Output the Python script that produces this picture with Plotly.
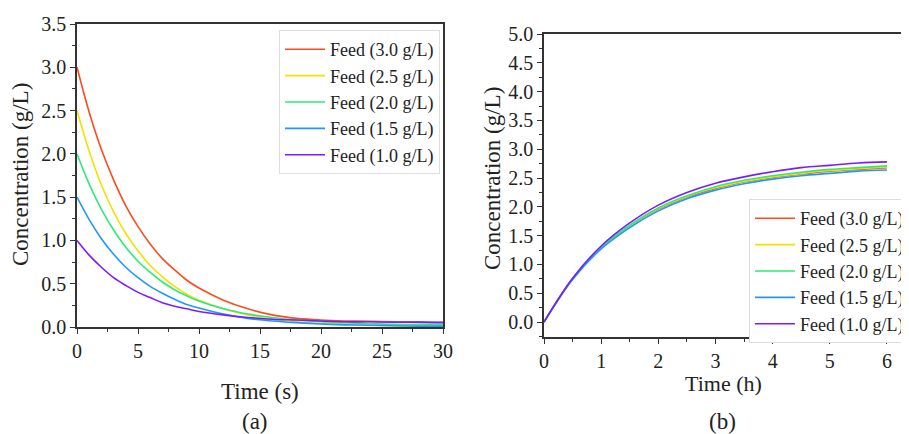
import plotly.graph_objects as go

# ---------------- data ----------------
labels = ["Feed (3.0 g/L)", "Feed (2.5 g/L)", "Feed (2.0 g/L)", "Feed (1.5 g/L)", "Feed (1.0 g/L)"]
colors = ["#FF4A1C", "#F2E200", "#2EEA78", "#2196FF", "#7A1CFF"]

time_s = [0, 1, 2, 3, 4, 5, 6, 7, 8, 9, 10, 12, 14, 16, 18, 20, 22, 24, 26, 28, 30]
a_30 = [3.00, 2.48, 2.05, 1.70, 1.40, 1.16, 0.96, 0.79, 0.66, 0.54, 0.45, 0.31, 0.21, 0.14, 0.10, 0.08, 0.07, 0.065, 0.06, 0.06, 0.055]
a_25 = [2.50, 2.03, 1.64, 1.33, 1.08, 0.88, 0.71, 0.58, 0.47, 0.38, 0.31, 0.21, 0.14, 0.09, 0.06, 0.04, 0.03, 0.02, 0.015, 0.01, 0.01]
a_20 = [2.00, 1.65, 1.36, 1.12, 0.92, 0.76, 0.63, 0.52, 0.43, 0.36, 0.30, 0.21, 0.15, 0.11, 0.08, 0.06, 0.05, 0.04, 0.03, 0.03, 0.03]
a_15 = [1.50, 1.24, 1.02, 0.84, 0.69, 0.57, 0.47, 0.39, 0.32, 0.26, 0.22, 0.15, 0.10, 0.07, 0.05, 0.035, 0.025, 0.02, 0.015, 0.01, 0.01]
a_10 = [1.00, 0.83, 0.69, 0.57, 0.48, 0.40, 0.34, 0.28, 0.24, 0.21, 0.18, 0.14, 0.11, 0.09, 0.08, 0.07, 0.06, 0.06, 0.055, 0.055, 0.05]

time_h = [0, 0.5, 1, 1.5, 2, 2.5, 3, 3.5, 4, 4.5, 5, 5.5, 6]
b_30 = [0, 0.75, 1.29, 1.67, 1.96, 2.17, 2.32, 2.43, 2.51, 2.57, 2.62, 2.65, 2.68]
b_25 = [0, 0.75, 1.29, 1.67, 1.97, 2.18, 2.33, 2.44, 2.52, 2.58, 2.63, 2.66, 2.69]
b_20 = [0, 0.75, 1.30, 1.68, 1.98, 2.19, 2.35, 2.46, 2.54, 2.60, 2.65, 2.68, 2.71]
b_15 = [0, 0.74, 1.27, 1.64, 1.93, 2.14, 2.29, 2.40, 2.48, 2.54, 2.58, 2.62, 2.64]
b_10 = [0, 0.76, 1.32, 1.72, 2.03, 2.25, 2.41, 2.52, 2.61, 2.68, 2.72, 2.76, 2.78]

series_a = [a_30, a_25, a_20, a_15, a_10]
series_b = [b_30, b_25, b_20, b_15, b_10]

FONT = "Liberation Serif"
AX = "#333333"

fig = go.Figure()
for lab, col, ya in zip(labels, colors, series_a):
    fig.add_trace(go.Scatter(x=time_s, y=ya, mode="lines", name=lab,
                             line=dict(color=col, width=1.6, shape="spline"),
                             xaxis="x", yaxis="y", legend="legend"))
for lab, col, yb in zip(labels, colors, series_b):
    fig.add_trace(go.Scatter(x=time_h, y=yb, mode="lines", name=lab,
                             line=dict(color=col, width=1.6, shape="spline"),
                             xaxis="x2", yaxis="y2", legend="legend2"))

W, H = 909, 434
OFF = 8  # page body margin
def fx(px): return (px - OFF) / W
def fy(py): return (H - (py - OFF)) / H

common = dict(showgrid=False, zeroline=False, showline=True, linecolor=AX, linewidth=1.5,
              ticks="outside", ticklen=5, tickwidth=1.3, tickcolor=AX, automargin=False,
              tickfont=dict(family=FONT, size=20, color="#222"))

legend_style = dict(bgcolor="white", bordercolor="#dddddd", borderwidth=1,
                    font=dict(family=FONT, size=18, color="#222"),
                    xanchor="left", yanchor="top", tracegroupgap=0, itemwidth=40)

fig.update_layout(
    width=W, height=H, margin=dict(l=0, r=0, t=0, b=0, pad=0, autoexpand=False),
    paper_bgcolor="white", plot_bgcolor="white",
    xaxis=dict(domain=[fx(77), fx(443)], range=[0, 30], dtick=5, mirror=True,
               minor=dict(ticks="outside", ticklen=3, dtick=2.5, tickcolor=AX), anchor="y", **common),
    yaxis=dict(domain=[fy(327), fy(24)], range=[0, 3.5], dtick=0.5, tickformat=".1f", mirror=True,
               minor=dict(ticks="outside", ticklen=3, dtick=0.25, tickcolor=AX), anchor="x", **common),
    xaxis2=dict(domain=[fx(544), fx(909)], range=[0, 6.385], dtick=1, mirror=True,
                minor=dict(ticks="outside", ticklen=3, dtick=0.5, tickcolor=AX), anchor="y2", **common),
    yaxis2=dict(domain=[fy(337), fy(34)], range=[-0.26, 5.0], tick0=0, dtick=0.5, tickformat=".1f",
                minor=dict(ticks="outside", ticklen=3, dtick=0.25, tickcolor=AX), anchor="x2", **common),
    legend=dict(x=fx(279), y=fy(30), **legend_style),
    legend2=dict(x=fx(749), y=fy(199), **legend_style),
    showlegend=True,
)

def label(px, py, text, size=21, angle=0):
    fig.add_annotation(x=fx(px), y=fy(py), xref="paper", yref="paper", text=text,
                       showarrow=False, xanchor="center", yanchor="middle",
                       font=dict(family=FONT, size=size, color="#222"), textangle=angle)

label(260, 391, "Time (s)", size=23)
label(20, 175, "Concentration (g/L)", size=23, angle=-90)
label(723, 383, "Time (h)", size=22)
label(492, 178, "Concentration (g/L)", size=23, angle=-90)
label(255, 421, "(a)", size=23)
label(722, 421, "(b)", size=23)

fig.write_html("out.html")
